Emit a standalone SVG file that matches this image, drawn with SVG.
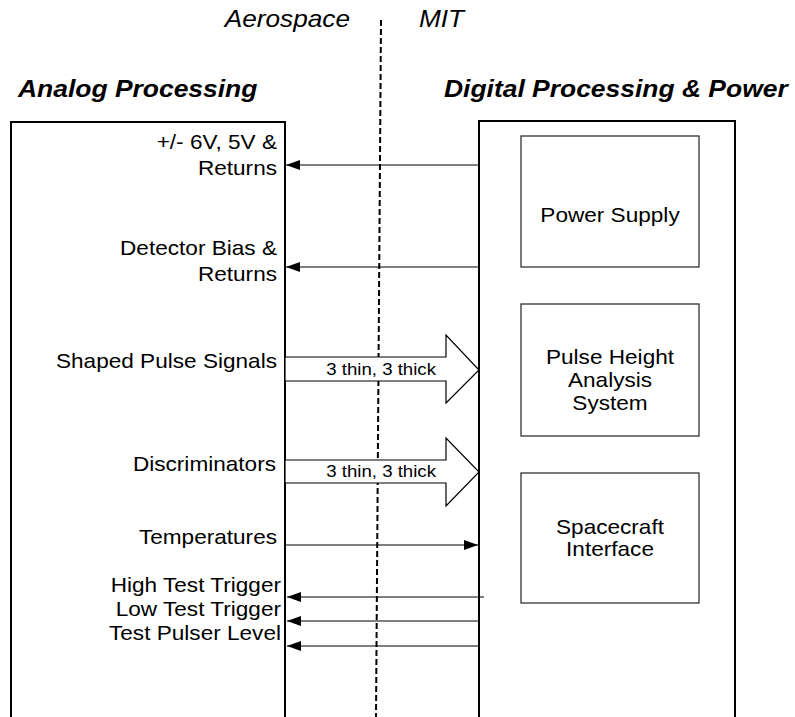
<svg xmlns="http://www.w3.org/2000/svg" width="795" height="717" viewBox="0 0 795 717">
<style>
text{font-family:"Liberation Sans",Arial,sans-serif;fill:#000}
.h{font-size:23px;font-weight:bold;font-style:italic}
.org{font-size:23px;font-style:italic}
.b{font-size:20px}
.s{font-size:16.5px}
.e{text-anchor:end}
.m{text-anchor:middle}
.outer{fill:#fff;stroke:#000;stroke-width:2}
.inner{fill:#fff;stroke:#333;stroke-width:1.3}
.ln{stroke:#000;stroke-width:1.2;fill:none}
.fat{fill:#fff;stroke:#000;stroke-width:1.2}
</style>
<defs>
<marker id="ah" viewBox="0 0 14 10" refX="14" refY="5" markerWidth="14" markerHeight="10" markerUnits="userSpaceOnUse" orient="auto">
<path d="M0,0 L14,5 L0,10 Z" fill="#000"/>
</marker>
</defs>
<rect width="795" height="717" fill="#fff"/>
<g id="titles">
<text class="org e" transform="translate(350,27) scale(1.14,1)">Aerospace</text>
<text class="org" transform="translate(419,27) scale(1.14,1)">MIT</text>
<text class="h" transform="translate(18,97) scale(1.15,1)">Analog Processing</text>
<text class="h" transform="translate(444,97) scale(1.15,1)">Digital Processing &amp; Power</text>
</g>
<g id="analog">
<rect class="outer" x="11" y="122" width="274" height="600"/>
<text class="b e" transform="translate(277,149) scale(1.13,1)">+/- 6V, 5V &amp;</text>
<text class="b e" transform="translate(277,175) scale(1.13,1)">Returns</text>
<text class="b e" transform="translate(277,255) scale(1.13,1)">Detector Bias &amp;</text>
<text class="b e" transform="translate(277,281) scale(1.13,1)">Returns</text>
<text class="b e" transform="translate(277,368) scale(1.13,1)">Shaped Pulse Signals</text>
<text class="b e" transform="translate(276,471) scale(1.13,1)">Discriminators</text>
<text class="b e" transform="translate(277,544) scale(1.13,1)">Temperatures</text>
<text class="b e" transform="translate(281,592) scale(1.13,1)">High Test Trigger</text>
<text class="b e" transform="translate(281,616) scale(1.13,1)">Low Test Trigger</text>
<text class="b e" transform="translate(281,640) scale(1.13,1)">Test Pulser Level</text>
</g>
<g id="digital">
<rect class="outer" x="479" y="121" width="256" height="601"/>
</g>
<g id="power-supply">
<rect class="inner" x="521" y="136" width="178" height="131"/>
<text class="b m" transform="translate(610,222) scale(1.13,1)">Power Supply</text>
</g>
<g id="pha">
<rect class="inner" x="521" y="304" width="178" height="132"/>
<text class="b m" transform="translate(610,364) scale(1.13,1)">Pulse Height</text>
<text class="b m" transform="translate(610,387) scale(1.13,1)">Analysis</text>
<text class="b m" transform="translate(610,410) scale(1.13,1)">System</text>
</g>
<g id="spacecraft">
<rect class="inner" x="521" y="473" width="178" height="130"/>
<text class="b m" transform="translate(610,534) scale(1.13,1)">Spacecraft</text>
<text class="b m" transform="translate(610,556) scale(1.13,1)">Interface</text>
</g>
<g id="boundary">
<line x1="381" y1="20" x2="376" y2="717" stroke="#000" stroke-width="2" stroke-dasharray="6,3"/>
</g>
<g id="connectors">
<line class="ln" x1="479" y1="165" x2="286" y2="165" marker-end="url(#ah)"/>
<line class="ln" x1="479" y1="267" x2="286" y2="267" marker-end="url(#ah)"/>
<polygon class="fat" points="285,357 446,357 446,335 479,370 446,403 446,381 285,381"/>
<text class="s e" transform="translate(436,375) scale(1.13,1)">3 thin, 3 thick</text>
<polygon class="fat" points="285,460 446,460 446,438 479,472 446,506 446,483 285,483"/>
<text class="s e" transform="translate(436,477) scale(1.13,1)">3 thin, 3 thick</text>
<line class="ln" x1="286" y1="545" x2="478" y2="545" marker-end="url(#ah)"/>
<line class="ln" x1="484" y1="597" x2="287" y2="597" marker-end="url(#ah)"/>
<line class="ln" x1="479" y1="621" x2="287" y2="621" marker-end="url(#ah)"/>
<line class="ln" x1="479" y1="646" x2="287" y2="646" marker-end="url(#ah)"/>
</g>
</svg>
